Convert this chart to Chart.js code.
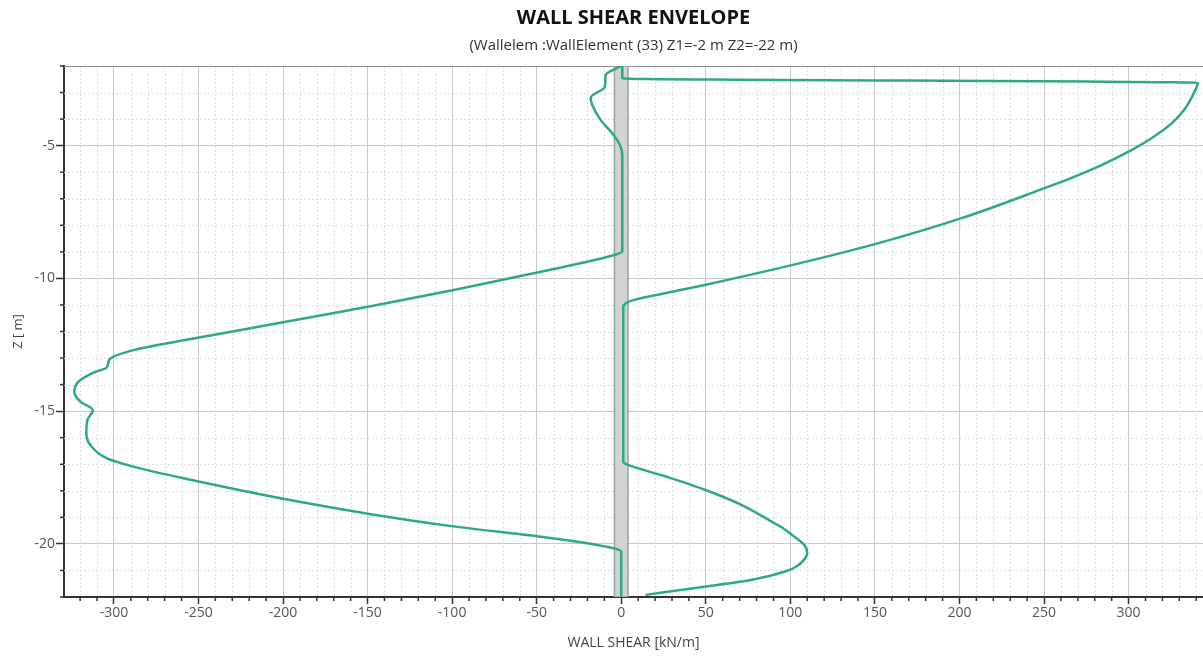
<!DOCTYPE html>
<html>
<head>
<meta charset="utf-8">
<title>Wall Shear Envelope</title>
<script src="https://cdn.jsdelivr.net/npm/chart.js@4.4.0/dist/chart.umd.min.js"></script>
<style>
    html, body { margin: 0; padding: 0; background: #fff; }
    #wrap { width: 1203px; height: 656px; }
</style>
</head>
<body>
<div id="wrap"><canvas id="shearChart" width="1203" height="656"></canvas></div>
<script>
// Envelope values, from top of wall (Z1) down to toe (Z2)
const zMin = [-2.00, -2.34, -2.78, -3.20, -3.47, -4.03, -4.60, -5.04, -5.35, -8.99, -9.12, -9.78,
    -10.44, -11.06, -11.64, -12.15, -12.49, -12.73, -12.95, -13.10, -13.35, -13.55, -13.89, -14.27,
    -14.64, -14.96, -15.33, -15.83, -16.27, -16.78, -17.09, -17.53, -18.31, -18.87, -19.34, -19.72,
    -19.91, -20.17, -20.29, -22.00];
const shearMin = [0, -9.2, -9.6, -18.1, -17.1, -12.2, -4.5, -0.4, 0.6, 0.6, -4.3, -49.6,
    -99, -148.9, -199.2, -243, -272.5, -290.2, -300.2, -303.1, -304.1, -312, -320.9, -323.4,
    -319.9, -312.4, -315.6, -316.3, -314, -304.1, -288.5, -258.8, -199.2, -148.9, -99.2, -48.9,
    -27, -4.3, 0, 0];

const zMax = [-2.00, -2.47, -2.63, -3.02, -3.66, -4.18, -4.73, -5.18, -5.74, -6.22, -6.58, -7.74,
    -8.70, -9.51, -10.24, -10.44, -10.81, -10.94, -11.10, -16.90, -16.99, -17.46, -17.97, -18.52,
    -19.14, -19.40, -19.68, -20.06, -20.34, -20.61, -20.84, -21.02, -21.36, -21.63, -21.92];
const shearMax = [0.6, 0.6, 340.9, 338.6, 332.8, 325.1, 313.3, 301.4, 283.7, 265.9, 251.1, 200.8,
    150.5, 100.2, 49.9, 35.1, 7.5, 2.6, 1.2, 1.2, 2.6, 26.3, 49.9, 70.7,
    88.4, 95.5, 101.4, 108.5, 110, 107.9, 103.8, 97.9, 76.6, 47, 14.4];

// Wall section drawn as a thin band around zero shear
const wallX = [-4, 4, 4, -4, -4];
const wallZ = [-2, -2, -22, -22, -2];

const xMin = -329.5, xMax = 344;
const zTop = -2, zBottom = -22;

const green = '#2eaa83';

function pairs(xs, ys) {
    return xs.map((x, i) => ({ x: x, y: ys[i] }));
}

function isMajor(v, step) {
    return Math.abs(v / step - Math.round(v / step)) < 1e-6;
}

// dotted minor grid, short minor ticks and the top frame line
const minorGrid = {
    id: 'minorGrid',
    beforeDatasetsDraw(chart) {
        const { ctx, chartArea: a, scales: { x, y } } = chart;
        ctx.save();
        ctx.lineWidth = 1;
        ctx.strokeStyle = '#dcdcdc';
        ctx.setLineDash([2, 2]);
        for (let v = Math.ceil(xMin / 10) * 10; v <= xMax; v += 10) {
            if (isMajor(v, 50)) continue;
            const px = Math.round(x.getPixelForValue(v)) + 0.5;
            ctx.beginPath(); ctx.moveTo(px, a.top); ctx.lineTo(px, a.bottom); ctx.stroke();
        }
        for (let v = zBottom + 1; v < zTop; v += 1) {
            if (isMajor(v, 5)) continue;
            const py = Math.round(y.getPixelForValue(v)) + 0.5;
            ctx.beginPath(); ctx.moveTo(a.left, py); ctx.lineTo(a.right, py); ctx.stroke();
        }
        ctx.setLineDash([]);
        ctx.strokeStyle = '#333';
        ctx.lineWidth = 1.5;
        for (let v = Math.ceil(xMin / 10) * 10; v <= xMax; v += 10) {
            if (isMajor(v, 50)) continue;
            const px = x.getPixelForValue(v);
            ctx.beginPath(); ctx.moveTo(px, a.bottom); ctx.lineTo(px, a.bottom + 4); ctx.stroke();
        }
        for (let v = zBottom; v <= zTop; v += 1) {
            if (isMajor(v, 5)) continue;
            const py = y.getPixelForValue(v);
            ctx.beginPath(); ctx.moveTo(a.left - 4, py); ctx.lineTo(a.left, py); ctx.stroke();
        }
        ctx.strokeStyle = '#8c8c8c';
        ctx.lineWidth = 1;
        ctx.beginPath(); ctx.moveTo(a.left, a.top + 0.5); ctx.lineTo(a.right, a.top + 0.5); ctx.stroke();
        ctx.restore();
    }
};

Chart.defaults.font.family = "'Open Sans', 'Noto Sans', sans-serif";

new Chart(document.getElementById('shearChart').getContext('2d'), {
    type: 'scatter',
    data: {
        datasets: [{
            label: 'Max shear',
            data: pairs(shearMax, zMax),
            indexAxis: 'y',
            borderColor: green,
            borderWidth: 2.5,
            pointRadius: 0,
            showLine: true,
            fill: false,
            cubicInterpolationMode: 'monotone',
            order: 1
        }, {
            label: 'Min shear',
            data: pairs(shearMin, zMin),
            indexAxis: 'y',
            borderColor: green,
            borderWidth: 2.5,
            pointRadius: 0,
            showLine: true,
            fill: false,
            cubicInterpolationMode: 'monotone',
            order: 1
        }, {
            label: 'Wall',
            data: pairs(wallX, wallZ),
            borderColor: '#97a1ad',
            backgroundColor: '#d3d3d3',
            borderWidth: 1.5,
            pointRadius: 0,
            showLine: true,
            fill: 'shape',
            tension: 0,
            order: 2
        }]
    },
    options: {
        responsive: false,
        animation: false,
        layout: { padding: { right: 0 } },
        plugins: {
            legend: { display: false },
            tooltip: { enabled: false },
            title: {
                display: true,
                text: 'WALL SHEAR ENVELOPE',
                color: '#111',
                fullSize: false,
                font: { size: 20, weight: 'bold' },
                padding: { top: 6, bottom: 0 }
            },
            subtitle: {
                display: true,
                text: '(Wallelem :WallElement (33) Z1=-2 m Z2=-22 m)',
                color: '#333',
                fullSize: false,
                font: { size: 15 },
                padding: { top: 7, bottom: 11 }
            }
        },
        scales: {
            x: {
                type: 'linear',
                min: xMin,
                max: xMax,
                ticks: {
                    stepSize: 10,
                    includeBounds: false,
                    autoSkip: false,
                    maxRotation: 0,
                    padding: 1,
                    color: '#555',
                    font: { size: 14 },
                    callback: v => isMajor(v, 50) ? String(Math.round(v)) : ''
                },
                grid: {
                    color: ctx => ctx.tick && isMajor(ctx.tick.value, 50) ? '#c9c9c9' : 'rgba(0,0,0,0)',
                    tickColor: ctx => ctx.tick && isMajor(ctx.tick.value, 50) ? '#333' : 'rgba(0,0,0,0)',
                    tickLength: 7,
                    tickWidth: 1.5
                },
                border: { color: '#333', width: 2 },
                title: {
                    display: true,
                    text: 'WALL SHEAR [kN/m]',
                    color: '#444',
                    font: { size: 14 },
                    padding: { top: 0, bottom: 5 }
                },
                afterFit: s => { s.height = 59; }
            },
            y: {
                type: 'linear',
                min: zBottom,
                max: zTop,
                ticks: {
                    stepSize: 1,
                    includeBounds: false,
                    autoSkip: false,
                    padding: 1,
                    color: '#555',
                    font: { size: 14 },
                    callback: v => isMajor(v, 5) ? String(Math.round(v)) : ''
                },
                grid: {
                    color: ctx => ctx.tick && isMajor(ctx.tick.value, 5) ? '#c9c9c9' : 'rgba(0,0,0,0)',
                    tickColor: ctx => ctx.tick && isMajor(ctx.tick.value, 5) ? '#333' : 'rgba(0,0,0,0)',
                    tickLength: 8,
                    tickWidth: 1.5
                },
                border: { color: '#333', width: 2 },
                title: {
                    display: true,
                    text: 'Z [ m]',
                    color: '#444',
                    font: { size: 13 },
                    padding: { top: 10, bottom: 0 }
                },
                afterFit: s => { s.width = 64; }
            }
        }
    },
    plugins: [minorGrid]
});
</script>
</body>
</html>
